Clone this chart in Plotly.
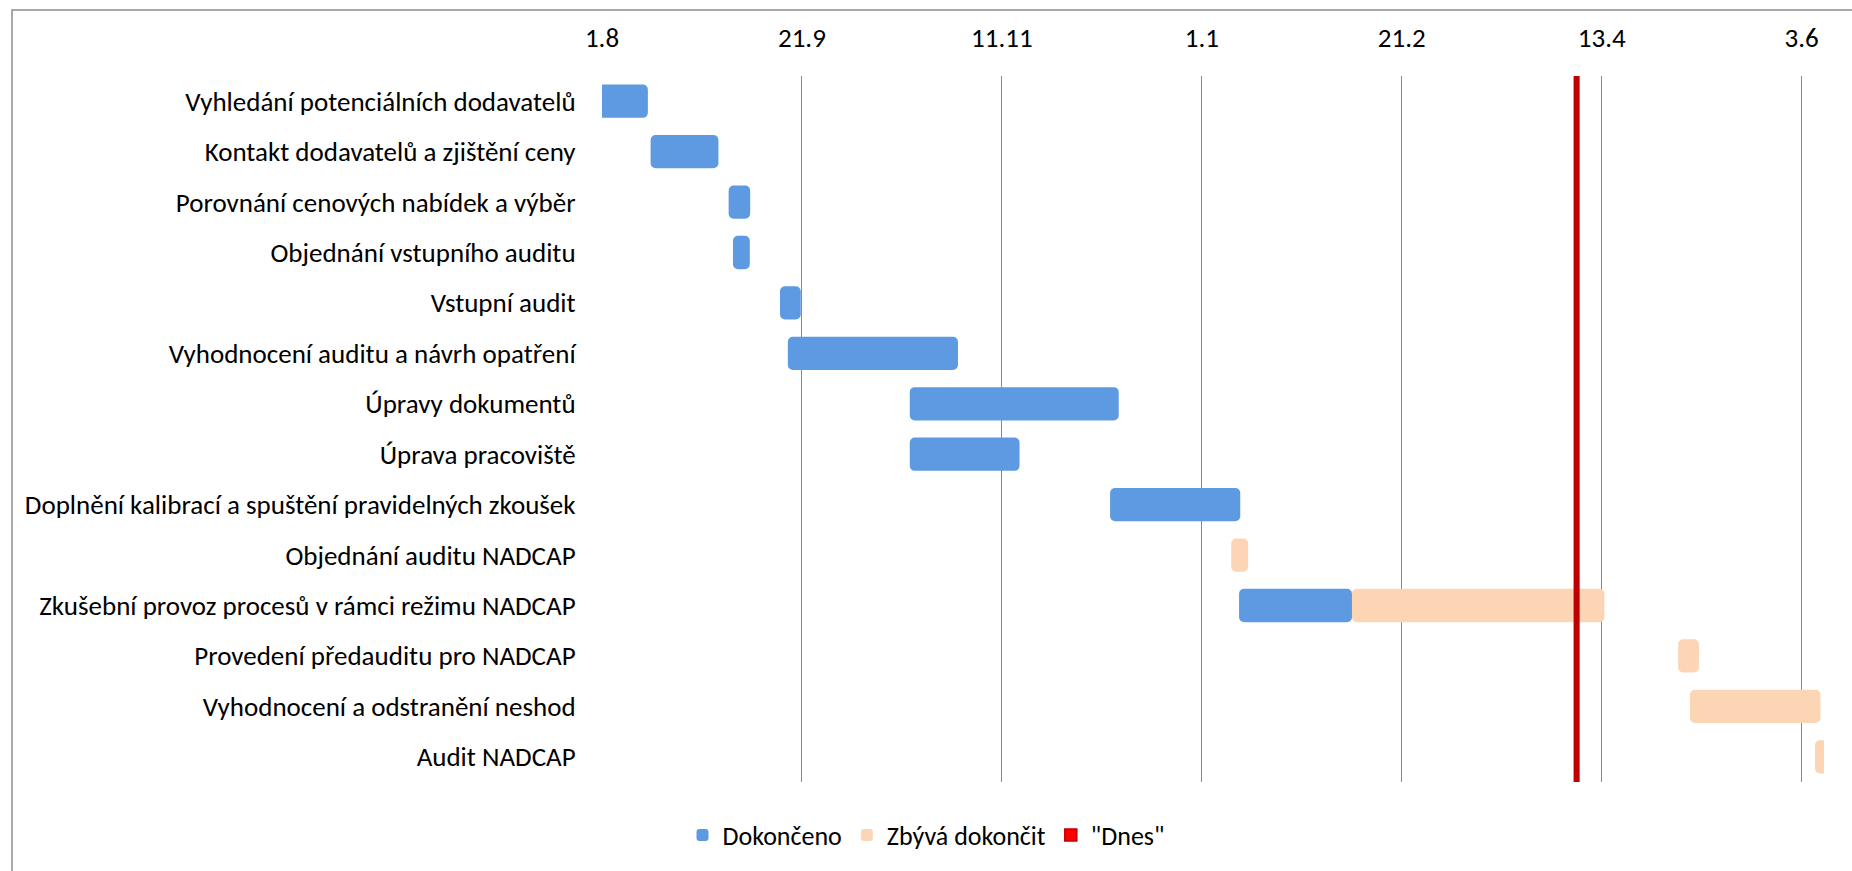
import pandas as pd
import plotly.graph_objects as go

# ---------------- data ----------------
tasks = [
    "Vyhledání potenciálních dodavatelů",
    "Kontakt dodavatelů a zjištění ceny",
    "Porovnání cenových nabídek a výběr",
    "Objednání vstupního auditu",
    "Vstupní audit",
    "Vyhodnocení auditu a návrh opatření",
    "Úpravy dokumentů",
    "Úprava pracoviště",
    "Doplnění kalibrací a spuštění pravidelných zkoušek",
    "Objednání auditu NADCAP",
    "Zkušební provoz procesů v rámci režimu NADCAP",
    "Provedení předauditu pro NADCAP",
    "Vyhodnocení a odstranění neshod",
    "Audit NADCAP",
]
# start of each task, in days after 1.8.2014
start_days = [-1.0, 12.4, 32.3, 33.4, 45.4, 47.4, 78.5, 78.5, 129.6, 160.5, 162.5, 274.5, 277.5, 309.4]
# completed part ("Dokončeno"), days
done_days = [12.7, 17.3, 5.5, 4.3, 5.3, 43.4, 53.3, 28.0, 33.2, 0, 28.8, 0, 0, 0]
# remaining part ("Zbývá dokončit"), days
remaining_days = [0, 0, 0, 0, 0, 0, 0, 0, 0, 4.3, 64.4, 5.3, 33.3, 4.0]

PROJECT_START = "2014-08-01"
TODAY_DAY = 248.6          # "Dnes"
AXIS_END_DAY = 311.7
TICK_STEP_DAYS = 51

series_names = ["Dokončeno", "Zbývá dokončit", '"Dnes"']
series_colors = ["#5E9AE1", "#FCD5B5", "#C00000"]

# ---------------- figure ----------------
DAY_MS = 86400000
t0 = pd.Timestamp(PROJECT_START)


def to_date(day):
    return (t0 + pd.Timedelta(days=day)).strftime("%Y-%m-%d %H:%M:%S")


FONT = "Calibri, Carlito, Lato, sans-serif"
FS = 27
FS_LEG = 26
fig = go.Figure()


def add_series(seg_start, seg_len, name, color):
    bases, lens = [], []
    for s, d in zip(seg_start, seg_len):
        if d > 0:
            bases.append(to_date(s))
            lens.append(d * DAY_MS)
        else:
            bases.append(None)
            lens.append(None)
    fig.add_trace(go.Bar(
        y=tasks, x=lens, base=bases,
        orientation="h", marker=dict(color=color, cornerradius=5, line=dict(width=0)),
        name=name, showlegend=True, hoverinfo="skip"))


add_series(start_days, done_days, series_names[0], series_colors[0])
add_series([s + d for s, d in zip(start_days, done_days)], remaining_days,
           series_names[1], series_colors[1])

# "Dnes" line
fig.add_trace(go.Bar(
    x=[to_date(TODAY_DAY)], y=[1], base=[0], width=[1.55 * DAY_MS],
    yaxis="y2", orientation="v", marker=dict(color=series_colors[2], line=dict(width=0)),
    showlegend=False, hoverinfo="skip"))
# legend entry for "Dnes"
fig.add_trace(go.Bar(
    x=[None], y=[None], yaxis="y2", orientation="v", name=series_names[2],
    marker=dict(color="#FF0000", line=dict(color="#C00000", width=1.5)),
    showlegend=True, hoverinfo="skip"))

L, R, T, B = 602, 28, 76, 89
W, H = 1852, 871
plot_w = W - L - R
plot_h = H - T - B

fig.update_layout(
    width=W, height=H,
    margin=dict(l=L, r=R, t=T, b=B, pad=0),
    paper_bgcolor="white", plot_bgcolor="white",
    barmode="overlay", bargap=0.34,
    font=dict(family=FONT, size=FS, color="#000000"),
    xaxis=dict(
        type="date", side="top",
        range=[to_date(0), to_date(AXIS_END_DAY)],
        tick0=to_date(0), dtick=TICK_STEP_DAYS * DAY_MS,
        tickformat="%-d.%-m",
        showgrid=True, gridcolor="#898989", gridwidth=1,
        zeroline=False, showline=False,
        ticks="outside", ticklen=17, tickcolor="rgba(0,0,0,0)",
        tickfont=dict(family=FONT, size=FS, color="#000000"),
    ),
    yaxis=dict(
        type="category", autorange="reversed",
        showgrid=False, zeroline=False, showline=False,
        ticks="outside", ticklen=20, tickcolor="rgba(0,0,0,0)",
        tickfont=dict(family=FONT, size=FS, color="#000000"),
    ),
    yaxis2=dict(overlaying="y", range=[0, 1], visible=False, fixedrange=True),
    legend=dict(
        orientation="h", xref="container", yref="container",
        x=0.5, xanchor="center", y=1 - 835 / H, yanchor="middle",
        font=dict(family=FONT, size=FS_LEG, color="#000000"),
        bgcolor="rgba(0,0,0,0)", traceorder="normal",
    ),
    shapes=[dict(
        type="rect", xref="paper", yref="paper", layer="below",
        x0=(12 - L) / plot_w, x1=1.5, y0=-1.0, y1=(H - B - 10) / plot_h,
        line=dict(color="#8C8C8C", width=1.5), fillcolor="rgba(0,0,0,0)")],
)

fig.write_html("out.html", config={"displayModeBar": False},
               post_script="document.body.style.margin='0';")
